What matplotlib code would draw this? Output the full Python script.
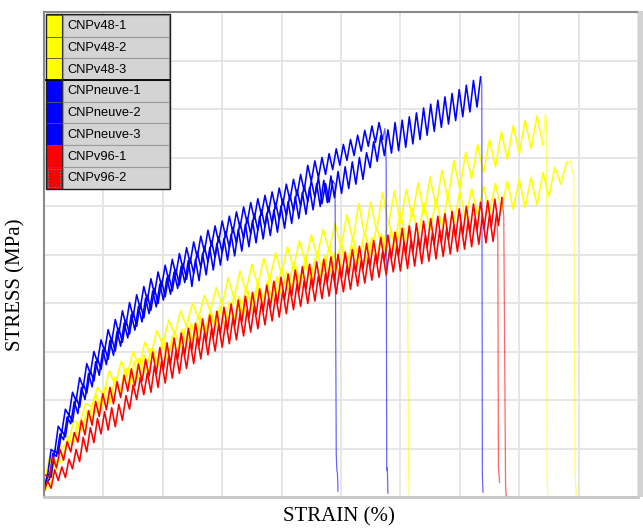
import matplotlib
matplotlib.use("Agg")
import matplotlib.pyplot as plt
from matplotlib.patches import Rectangle
from matplotlib.lines import Line2D

# ---------------- data ----------------
# stress readings are sampled at a constant strain increment (start, step);
# each test ends with the failure drop listed as (strain, stress) points.
legend_labels = ["CNPv48-1", "CNPv48-2", "CNPv48-3",
                 "CNPneuve-1", "CNPneuve-2", "CNPneuve-3",
                 "CNPv96-1", "CNPv96-2"]
legend_colors = ["#ffff00", "#ffff00", "#ffff00",
                 "#0000ff", "#0000ff", "#0000ff",
                 "#ff0000", "#ff0000"]

v48_1_sampling = (0.00, 0.10)
v48_1_stress = [0.10, 0.50, 0.54, 1.05, 1.07, 1.57, 1.51, 1.93, 1.86, 2.26,
                2.10, 2.60, 2.30, 2.80, 2.50, 3.00, 2.70, 3.20, 2.91, 3.43,
                3.15, 3.65, 3.35, 3.84, 3.52, 4.00, 3.68, 4.16, 3.84, 4.32,
                3.95, 4.52, 4.09, 4.66, 4.23, 4.80, 4.36, 4.92, 4.48, 5.04,
                4.60, 5.16, 4.72, 5.28, 4.84, 5.40, 4.96, 5.52, 5.08, 5.64,
                5.15, 5.82, 5.29, 6.05, 5.37, 6.08, 5.48, 6.28, 5.62, 6.31,
                5.65, 6.34, 5.78, 6.48, 5.84, 6.60, 5.97, 6.74, 6.13, 6.94,
                6.35, 7.11, 6.56, 7.27, 6.68, 7.37, 6.81, 7.53, 6.96, 7.66,
                7.08, 7.77, 7.18, 7.86, 7.26]
v48_1_failure = [(8.44, 7.90), (8.46, 7.80), (8.47, 0.40), (8.48, 0.05)]

v48_2_sampling = (0.00, 0.10)
v48_2_stress = [0.10, 0.24, 0.74, 0.73, 1.17, 1.13, 1.53, 1.45, 1.84, 1.74,
                2.20, 1.92, 2.44, 2.15, 2.65, 2.35, 2.85, 2.55, 3.05, 2.75,
                3.25, 2.93, 3.41, 3.09, 3.57, 3.25, 3.72, 3.39, 3.86, 3.53,
                4.00, 3.67, 4.14, 3.81, 4.28, 3.95, 4.41, 4.07, 4.53, 4.19,
                4.70, 4.26, 4.82, 4.38, 4.94, 4.50, 5.05, 4.60, 5.15, 4.70,
                5.25, 4.80, 5.35, 4.90, 5.45, 5.00, 5.56, 5.12, 5.68, 5.24,
                5.85, 5.30, 5.95, 5.40, 6.05, 5.50, 6.14, 5.58, 6.22, 5.66,
                6.30, 5.73, 6.36, 5.79, 6.42, 5.85, 6.47, 5.89, 6.51, 5.93,
                6.55, 5.97, 6.59, 6.02, 6.69, 6.20, 6.80, 6.45, 6.90]
v48_2_failure = [(8.86, 6.92), (8.92, 6.60), (8.94, 0.55), (8.95, 0.30), (8.96, 0.05)]

v48_3_sampling = (0.00, 0.08)
v48_3_stress = [0.20, 0.79, 0.63, 1.04, 0.85, 1.26, 1.08, 1.51, 1.35, 1.78,
                1.54, 2.11, 1.78, 2.30, 1.95, 2.47, 2.12, 2.65, 2.29, 2.80,
                2.43, 2.93, 2.56, 3.06, 2.69, 3.19, 2.81, 3.32, 2.95, 3.46,
                3.08, 3.59, 3.21, 3.72, 3.33, 3.82, 3.44, 3.93, 3.54, 4.03,
                3.65, 4.14, 3.75, 4.24, 3.85, 4.34, 3.96, 4.45, 4.06, 4.55,
                4.16, 4.65, 4.26, 4.75, 4.36, 4.84, 4.43, 4.91, 4.50, 4.98,
                4.57, 5.04, 4.63, 5.11, 4.70, 5.18, 4.78, 5.26, 4.86, 5.35,
                4.94, 5.42, 5.02, 5.49, 5.09, 5.56, 5.15]
v48_3_failure = [(6.12, 4.95), (6.14, 0.30), (6.15, 0.02)]

neuve_1_sampling = (0.00, 0.06)
neuve_1_stress = [0.15, 0.47, 0.41, 0.95, 0.89, 1.37, 1.24, 1.71, 1.55, 2.05,
                  1.85, 2.33, 2.14, 2.61, 2.39, 2.85, 2.63, 3.08, 2.84, 3.27,
                  3.01, 3.48, 3.19, 3.65, 3.36, 3.82, 3.52, 3.99, 3.69, 4.16,
                  3.85, 4.30, 3.99, 4.45, 4.13, 4.57, 4.25, 4.69, 4.37, 4.81,
                  4.49, 4.93, 4.61, 5.05, 4.73, 5.17, 4.85, 5.28, 4.94, 5.37,
                  5.04, 5.47, 5.14, 5.56, 5.23, 5.66, 5.33, 5.76, 5.42, 5.84,
                  5.50, 5.92, 5.57, 5.99, 5.64, 6.06, 5.72, 6.14, 5.80, 6.23,
                  5.90, 6.33, 6.00, 6.42, 6.09, 6.52, 6.18, 6.59, 6.05, 6.46,
                  6.08, 6.51]
neuve_1_failure = [(4.90, 6.45), (4.92, 0.90), (4.93, 0.55), (4.94, 0.50), (4.95, 0.12)]

neuve_2_sampling = (0.00, 0.06)
neuve_2_stress = [0.15, 0.44, 0.98, 0.92, 1.46, 1.34, 1.81, 1.68, 2.16, 1.98,
                  2.46, 2.26, 2.75, 2.54, 3.00, 2.78, 3.24, 3.01, 3.45, 3.20,
                  3.66, 3.37, 3.84, 3.54, 4.01, 3.71, 4.17, 3.88, 4.34, 4.05,
                  4.50, 4.19, 4.64, 4.34, 4.78, 4.46, 4.90, 4.58, 5.02, 4.70,
                  5.14, 4.82, 5.26, 4.94, 5.38, 5.06, 5.50, 5.17, 5.59, 5.26,
                  5.69, 5.36, 5.79, 5.45, 5.88, 5.55, 5.98, 5.65, 6.07, 5.73,
                  6.15, 5.81, 6.22, 5.88, 6.29, 5.95, 6.37, 6.03, 6.45, 6.12,
                  6.55, 6.22, 6.65, 6.31, 6.84, 6.51, 6.93, 6.58, 7.00, 6.65,
                  7.08, 6.75, 7.18, 6.84, 7.27, 6.94, 7.37, 7.04, 7.46, 7.13,
                  7.56, 7.23, 7.65, 7.31, 7.72, 7.38]
neuve_2_failure = [(5.74, 7.60), (5.76, 6.90), (5.77, 0.55), (5.78, 0.60), (5.79, 0.08)]

neuve_3_sampling = (0.03, 0.06)
neuve_3_stress = [0.30, 0.36, 0.90, 0.84, 1.30, 1.18, 1.65, 1.51, 1.97, 1.72,
                  2.26, 2.01, 2.55, 2.27, 2.79, 2.51, 3.03, 2.73, 3.23, 2.92,
                  3.42, 3.11, 3.59, 3.28, 3.76, 3.44, 3.93, 3.61, 4.10, 3.78,
                  4.25, 3.92, 4.39, 4.06, 4.52, 4.18, 4.64, 4.30, 4.76, 4.42,
                  4.88, 4.34, 4.90, 4.46, 5.02, 4.58, 5.14, 4.68, 5.23, 4.78,
                  5.33, 4.88, 5.42, 4.97, 5.52, 5.07, 5.62, 5.16, 5.70, 5.24,
                  5.78, 5.32, 5.85, 5.39, 5.92, 5.46, 6.00, 5.54, 6.09, 5.64,
                  6.19, 5.74, 6.28, 5.83, 6.38, 5.92, 6.46, 5.99, 6.53, 6.07,
                  6.62, 6.17, 6.71, 6.26, 6.81, 6.36, 6.91, 6.45, 7.00, 6.55,
                  7.10, 6.79, 7.33, 6.92, 7.45, 7.04, 7.57, 7.09, 7.72, 7.14,
                  7.77, 7.21, 7.84, 7.28, 7.92, 7.37, 8.02, 7.46, 8.10, 7.54,
                  8.18, 7.62, 8.25, 7.69, 8.32, 7.76, 8.40, 7.84, 8.49, 7.94,
                  8.59, 8.04, 8.66]
neuve_3_failure = [(7.37, 8.50), (7.38, 0.45), (7.39, 0.10)]

v96_1_sampling = (0.00, 0.06)
v96_1_stress = [0.10, 0.33, 0.18, 0.56, 0.34, 0.62, 0.40, 0.78, 0.58, 0.98,
                0.73, 1.23, 0.93, 1.43, 1.12, 1.62, 1.30, 1.76, 1.38, 1.84,
                1.45, 1.91, 1.58, 2.09, 1.81, 2.31, 2.01, 2.46, 2.11, 2.56,
                2.16, 2.71, 2.26, 2.80, 2.35, 2.90, 2.45, 3.00, 2.55, 3.10,
                2.65, 3.20, 2.75, 3.30, 2.85, 3.39, 2.93, 3.47, 3.01, 3.55,
                3.09, 3.63, 3.16, 3.70, 3.24, 3.78, 3.32, 3.86, 3.40, 3.94,
                3.47, 4.01, 3.55, 4.09, 3.63, 4.17, 3.71, 4.25, 3.78, 4.32,
                3.86, 4.40, 3.93, 4.46, 3.99, 4.51, 4.04, 4.56, 4.09, 4.61,
                4.14, 4.66, 4.19, 4.71, 4.23, 4.76, 4.28, 4.82, 4.35, 4.88,
                4.41, 4.94, 4.47, 5.00, 4.53, 5.06, 4.58, 5.11, 4.64, 5.17,
                4.66, 5.25, 4.71, 5.30, 4.76, 5.35, 4.81, 5.40, 4.86, 5.45,
                4.91, 5.50, 4.96, 5.55, 5.01, 5.60, 5.06, 5.65, 5.11, 5.70,
                5.16, 5.75, 5.21, 5.79, 5.24, 5.82, 5.27, 5.85]
v96_1_failure = [(7.64, 5.30), (7.65, 0.60), (7.66, 0.45), (7.67, 0.30)]

v96_2_sampling = (0.03, 0.06)
v96_2_stress = [0.45, 0.41, 0.82, 0.60, 0.98, 0.76, 1.14, 0.93, 1.33, 1.13,
                1.58, 1.28, 1.78, 1.48, 1.97, 1.66, 2.13, 1.80, 2.26, 1.92,
                2.38, 2.05, 2.51, 2.18, 2.64, 2.29, 2.74, 2.39, 2.84, 2.49,
                2.99, 2.54, 3.08, 2.63, 3.18, 2.73, 3.28, 2.83, 3.38, 2.93,
                3.48, 3.03, 3.58, 3.13, 3.67, 3.21, 3.75, 3.29, 3.83, 3.37,
                3.91, 3.45, 3.98, 3.52, 4.06, 3.60, 4.14, 3.68, 4.22, 3.76,
                4.29, 3.83, 4.37, 3.91, 4.45, 3.99, 4.53, 4.07, 4.60, 4.14,
                4.68, 4.22, 4.75, 4.28, 4.80, 4.33, 4.85, 4.38, 4.90, 4.43,
                4.95, 4.48, 5.00, 4.52, 5.05, 4.57, 5.10, 4.64, 5.17, 4.70,
                5.23, 4.76, 5.29, 4.82, 5.35, 4.87, 5.40, 4.93, 5.46, 4.98,
                5.54, 5.00, 5.59, 5.05, 5.64, 5.10, 5.69, 5.15, 5.74, 5.20,
                5.79, 5.25, 5.84, 5.30, 5.89, 5.35, 5.94, 5.40, 5.99, 5.45,
                6.04, 5.50, 6.08, 5.54, 6.11, 5.57, 6.14, 5.60, 6.17]
v96_2_failure = [(7.74, 5.80), (7.77, 0.30), (7.78, 0.02)]

series = [
    (v48_1_sampling, v48_1_stress, v48_1_failure),
    (v48_2_sampling, v48_2_stress, v48_2_failure),
    (v48_3_sampling, v48_3_stress, v48_3_failure),
    (neuve_1_sampling, neuve_1_stress, neuve_1_failure),
    (neuve_2_sampling, neuve_2_stress, neuve_2_failure),
    (neuve_3_sampling, neuve_3_stress, neuve_3_failure),
    (v96_1_sampling, v96_1_stress, v96_1_failure),
    (v96_2_sampling, v96_2_stress, v96_2_failure),
]

# ---------------- figure ----------------
W, H = 643, 528
fig = plt.figure(figsize=(W / 100, H / 100), dpi=100)


def fx(px):
    return px / W


def fy(py):
    return 1 - py / H


ax = fig.add_axes([fx(44), fy(497), fx(638) - fx(44), fy(12) - fy(497)])
ax.set_xlim(0, 10)
ax.set_ylim(0, 10)
ax.set_xticks(range(11))
ax.set_yticks(range(11))
ax.tick_params(length=0, labelbottom=False, labelleft=False)
ax.grid(True, color="#e4e4e4", lw=1.3)
ax.set_axisbelow(True)
ax.spines["right"].set_visible(False)
ax.spines["left"].set_color("#8a8a8a")
ax.spines["left"].set_linewidth(1.5)
ax.spines["top"].set_color("#8a8a8a")
ax.spines["top"].set_linewidth(1.5)
ax.spines["bottom"].set_color("#c6c6c6")
ax.spines["bottom"].set_linewidth(2.0)

for (samp, stress, failure), col in zip(series, legend_colors):
    start, step = samp
    xs = [start + k * step for k in range(len(stress))]
    ys = list(stress)
    ax.plot(xs, ys, color=col, lw=1.15, clip_on=True)
    # failure drop, drawn thinner / lighter like the original trace
    fx_ = [xs[-1]] + [p[0] for p in failure]
    fy_ = [ys[-1]] + [p[1] for p in failure]
    ax.plot(fx_, fy_, color=col, lw=0.9, alpha=0.6, clip_on=True)

# right-hand grey bar
fig.add_artist(Rectangle((fx(638), fy(497)), fx(643) - fx(638), fy(11) - fy(497),
                         transform=fig.transFigure, facecolor="#d2d2d2", edgecolor="none"))

# ---------------- legend (table-like) ----------------
top = 15.0
row_h = 21.7
xl, xs_end, xr = 46.0, 62.0, 168.5
for i, (lab, col) in enumerate(zip(legend_labels, legend_colors)):
    y0 = top + i * row_h
    y1 = y0 + row_h
    fig.add_artist(Rectangle((fx(xl), fy(y1)), fx(xs_end) - fx(xl), fy(y0) - fy(y1),
                             transform=fig.transFigure, facecolor=col, edgecolor="#555555", lw=0.6))
    fig.add_artist(Rectangle((fx(xs_end + 1), fy(y1)), fx(xr) - fx(xs_end + 1), fy(y0) - fy(y1),
                             transform=fig.transFigure, facecolor="#d4d4d4", edgecolor="#9a9a9a", lw=0.8))
    fig.text(fx(67), fy(y0 + row_h / 2 + 0.5), lab, fontsize=9.3, family="Liberation Sans",
             va="center", ha="left", color="#000000")

fig.add_artist(Rectangle((fx(xl), fy(top + 8 * row_h)), fx(xr + 1) - fx(xl), fy(top - 1) - fy(top + 8 * row_h),
                         transform=fig.transFigure, facecolor="none", edgecolor="#202020", lw=1.0))
fig.add_artist(Line2D([fx(xl), fx(xr + 1)], [fy(top + 3 * row_h), fy(top + 3 * row_h)],
                      transform=fig.transFigure, color="#000000", lw=1.3))
fig.add_artist(Line2D([fx(xs_end), fx(xs_end)], [fy(top), fy(top + 8 * row_h)],
                      transform=fig.transFigure, color="#303030", lw=0.8))
fig.add_artist(Rectangle((fx(48), fy(top + 8 * row_h - 2)), fx(60) - fx(48),
                         fy(top + 7 * row_h + 2) - fy(top + 8 * row_h - 2),
                         transform=fig.transFigure, facecolor="none", edgecolor="#3aa0a0", lw=0.8, ls=":"))

# ---------------- axis titles ----------------
fig.text(fx(16), fy(285), "STRESS (MPa)", rotation=90, fontsize=15, family="Liberation Serif",
         ha="center", va="center")
fig.text(fx(339), fy(517), "STRAIN (%)", fontsize=15, family="Liberation Serif",
         ha="center", va="center")

fig.savefig("out.png", dpi=100)
